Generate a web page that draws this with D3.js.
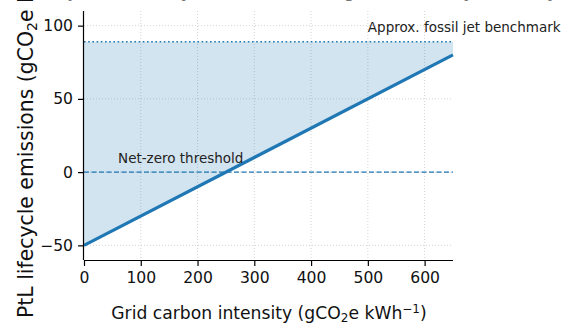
<!DOCTYPE html>
<html>
<head>
<meta charset="utf-8">
<script src="https://cdn.jsdelivr.net/npm/d3@7"></script>
<style>
  body { margin: 0; background: #fff; }
  svg { display: block; font-family: "DejaVu Sans", sans-serif; }
</style>
</head>
<body>
<svg id="chart" width="563" height="323"></svg>
<script>
// grid carbon intensity (gCO2e/kWh) and resulting PtL lifecycle emissions
var gridIntensity = [0, 650];
var ptlEmissions = [-50, 80];
var fossilBenchmark = 89;
var netZero = 0;
var xTicks = [0, 100, 200, 300, 400, 500, 600];
var yTicks = [-50, 0, 50, 100];

var blue = "#1f77b4";
var svg = d3.select("#chart");

var x = d3.scaleLinear().domain([0, 650]).range([84, 453]);
var y = d3.scaleLinear().domain([-60, 110]).range([260, 11]);

var pts = gridIntensity.map((g, i) => ({ g: g, e: ptlEmissions[i] }));

// grid
svg.append("g").selectAll("line")
    .data(xTicks.slice(1))
    .enter().append("line")
    .attr("x1", d => x(d)).attr("x2", d => x(d))
    .attr("y1", y(110)).attr("y2", y(-60))
    .attr("stroke", "#d4d4d4").attr("stroke-dasharray", "1,2");
svg.append("g").selectAll("line")
    .data(yTicks)
    .enter().append("line")
    .attr("x1", x(0)).attr("x2", x(650))
    .attr("y1", d => y(d)).attr("y2", d => y(d))
    .attr("stroke", "#d4d4d4").attr("stroke-dasharray", "1,2");

// shaded band between the line and the fossil benchmark
var area = d3.area()
    .x(d => x(d.g))
    .y0(d => y(d.e))
    .y1(y(fossilBenchmark));
svg.append("path")
    .datum(pts)
    .attr("d", area)
    .attr("fill", blue).attr("fill-opacity", 0.2);

// reference lines
svg.append("line")
    .attr("x1", x(0)).attr("x2", x(650))
    .attr("y1", y(fossilBenchmark)).attr("y2", y(fossilBenchmark))
    .attr("stroke", blue).attr("stroke-width", 1.6)
    .attr("stroke-dasharray", "1.6,2.6");
svg.append("line")
    .attr("x1", x(0)).attr("x2", x(650))
    .attr("y1", y(netZero)).attr("y2", y(netZero))
    .attr("stroke", blue).attr("stroke-width", 1.4)
    .attr("stroke-dasharray", "5,2.5");

// main line
var line = d3.line().x(d => x(d.g)).y(d => y(d.e));
svg.append("path")
    .datum(pts)
    .attr("d", line)
    .attr("fill", "none")
    .attr("stroke", blue).attr("stroke-width", 3.2);

// axes
var xAxis = d3.axisBottom(x).tickValues(xTicks).tickSize(6).tickPadding(6);
var yAxis = d3.axisLeft(y).tickValues(yTicks).tickSize(6).tickPadding(5)
    .tickFormat(d => d < 0 ? "\u2212" + Math.abs(d) : d);

var gx = svg.append("g").attr("transform", "translate(0," + y(-60) + ")").call(xAxis);
var gy = svg.append("g").attr("transform", "translate(" + x(0) + ",0)").call(yAxis);
[gx, gy].forEach(g => {
    g.select(".domain").attr("stroke", "#000").attr("stroke-width", 1.2);
    g.selectAll(".tick line").attr("stroke", "#000").attr("stroke-width", 1.2);
    g.selectAll(".tick text").attr("fill", "#111")
        .style("font-family", "DejaVu Sans").style("font-size", "15.6px");
});
gx.select(".domain").attr("d", "M" + x(0) + ",0.5H" + x(650));
gy.select(".domain").attr("d", "M-0.5," + y(-60) + "V" + y(110));

// annotations
svg.append("text")
    .attr("x", x(60)).attr("y", y(netZero) - 9)
    .style("font-size", "13.5px").attr("fill", "#222")
    .text("Net-zero threshold");
svg.append("text")
    .attr("x", x(500)).attr("y", y(fossilBenchmark) - 10)
    .style("font-size", "13.5px").attr("fill", "#222")
    .text("Approx. fossil jet benchmark");

// axis labels
var xl = svg.append("text")
    .attr("x", 269).attr("y", 319)
    .attr("text-anchor", "middle")
    .style("font-size", "17.2px").attr("fill", "#111");
xl.append("tspan").text("Grid carbon intensity (gCO");
xl.append("tspan").attr("dy", 3).style("font-size", "12px").text("2");
xl.append("tspan").attr("dy", -3).text("e kWh");
xl.append("tspan").attr("dy", -6).style("font-size", "12px").text("\u22121");
xl.append("tspan").attr("dy", 6).text(")");

var yl = svg.append("text")
    .attr("transform", "translate(33,318) rotate(-90)")
    .attr("text-anchor", "start")
    .style("font-size", "20.4px").attr("fill", "#111");
yl.append("tspan").text("PtL lifecycle emissions (gCO");
yl.append("tspan").attr("dy", 4).style("font-size", "14px").text("2");
yl.append("tspan").attr("dy", -4).text("e MJ");
yl.append("tspan").attr("dy", -7).style("font-size", "14px").text("\u22121");
yl.append("tspan").attr("dy", 7).text(")");

// title, almost entirely above the frame
svg.append("text")
    .attr("x", 268).attr("y", -3)
    .attr("text-anchor", "middle")
    .style("font-size", "18px").attr("fill", "#777")
    .text("Synthetic jet fuel: lifecycle emissions vs grid electricity intensity");
</script>
</body>
</html>
